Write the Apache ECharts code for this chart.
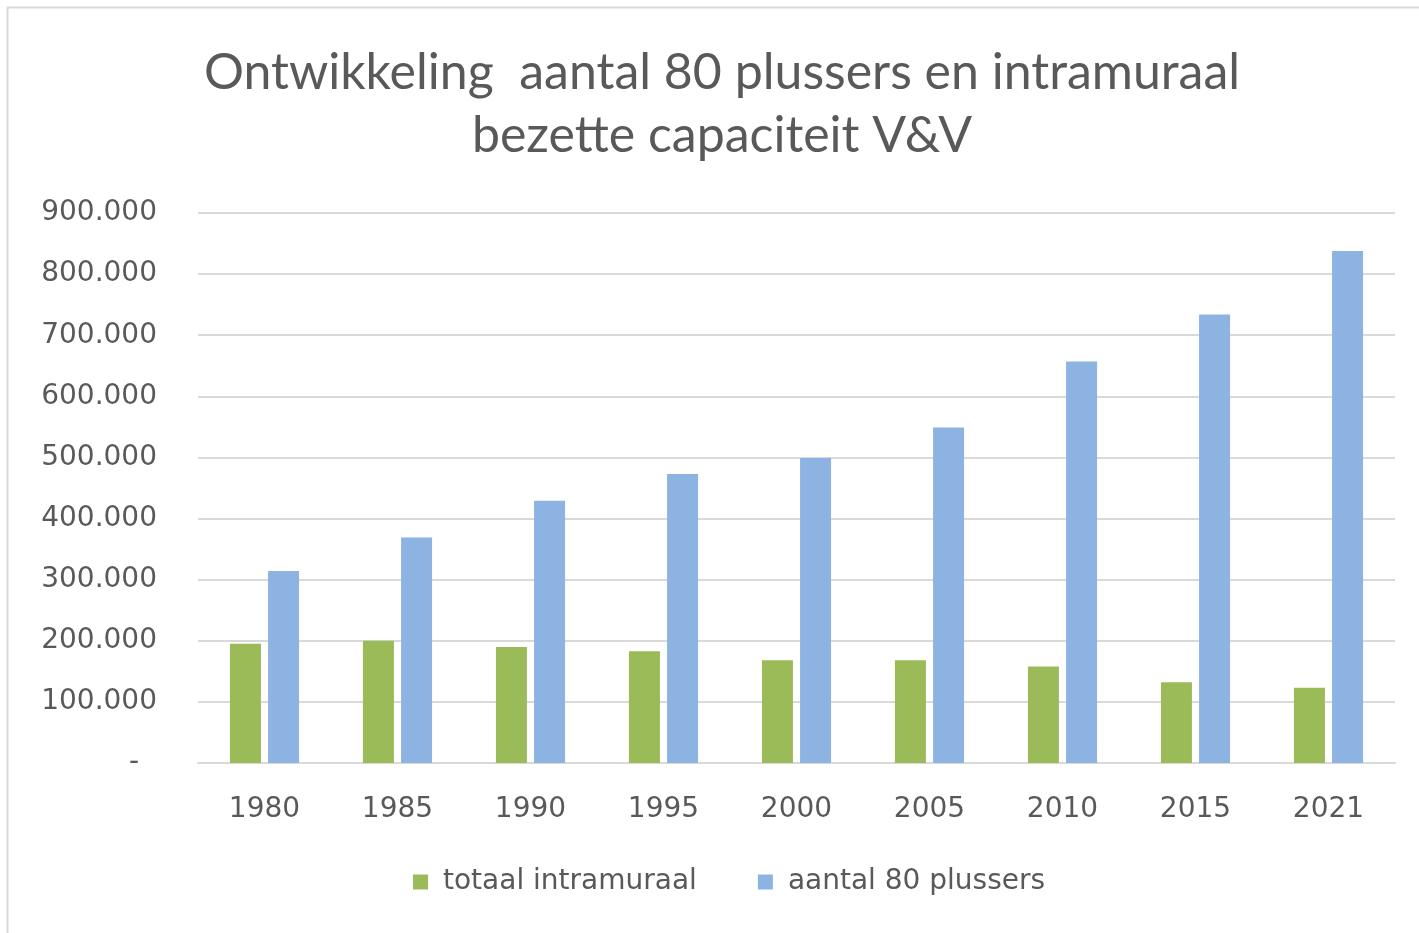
<!DOCTYPE html>
<html>
<head>
<meta charset="utf-8">
<script src="https://cdn.jsdelivr.net/npm/echarts@6/dist/echarts.min.js"></script>
<style>
  html, body { margin: 0; padding: 0; background: #fff; }
  #chart { width: 1419px; height: 933px; }
</style>
</head>
<body>
<section id="chart"></section>
<script>
let years = ["1980", "1985", "1990", "1995", "2000", "2005", "2010", "2015", "2021"];
let intramuraal = [195000, 200000, 190000, 183000, 168000, 168000, 158000, 132000, 123000];
let plussers80 = [314000, 369000, 429000, 473000, 499000, 549000, 657000, 734000, 838000];
let seriesNames = ["totaal intramuraal", "aantal 80 plussers"];

let titleFont = "Lato";
let labelFont = "DejaVu Sans";
let textColor = "#595959";

function fmt(v) {
  if (v === 0) return "-  ";
  return String(v).replace(/\B(?=(\d{3})+(?!\d))/g, ".");
}

let myChart = echarts.init(document.getElementById("chart"));
let option = {
  backgroundColor: "#fff",
  color: ["#9BBB59", "#8DB3E2"],
  title: {
    text: "Ontwikkeling  aantal 80 plussers en intramuraal\nbezette capaciteit V&V",
    left: 717,
    top: 36,
    textAlign: "center",
    textStyle: {
      fontFamily: titleFont,
      fontSize: 50,
      fontWeight: "normal",
      color: textColor,
      lineHeight: 63
    }
  },
  graphic: [
    {
      type: "rect",
      shape: { x: 7.5, y: 7.5, width: 1430, height: 950 },
      style: { fill: null, stroke: "#d9d9d9", lineWidth: 2 },
      silent: true
    }
  ],
  legend: {
    data: seriesNames,
    top: 868,
    left: 413,
    padding: 0,
    itemWidth: 15,
    itemHeight: 15,
    itemGap: 61,
    icon: "rect",
    textStyle: {
      fontFamily: labelFont,
      fontSize: 28,
      color: textColor,
      padding: [0, 0, 0, 10]
    }
  },
  grid: {
    left: 198,
    right: 24,
    top: 213,
    bottom: 170
  },
  xAxis: {
    type: "category",
    data: years,
    axisTick: { show: false },
    axisLine: { lineStyle: { color: "#d9d9d9", width: 2 } },
    axisLabel: { color: textColor, fontFamily: labelFont, fontSize: 28, margin: 33 }
  },
  yAxis: {
    type: "value",
    min: 0,
    max: 900000,
    interval: 100000,
    axisLine: { show: false },
    axisTick: { show: false },
    splitLine: { lineStyle: { color: "#d9d9d9", width: 2 } },
    axisLabel: {
      color: textColor,
      fontFamily: labelFont,
      fontSize: 28,
      margin: 41,
      formatter: fmt
    }
  },
  series: [
    {
      name: seriesNames[0],
      type: "bar",
      data: intramuraal,
      barWidth: 31,
      barGap: "23%"
    },
    {
      name: seriesNames[1],
      type: "bar",
      data: plussers80,
      barWidth: 31,
      barGap: "23%"
    }
  ]
};
myChart.setOption(option);
</script>
</body>
</html>
